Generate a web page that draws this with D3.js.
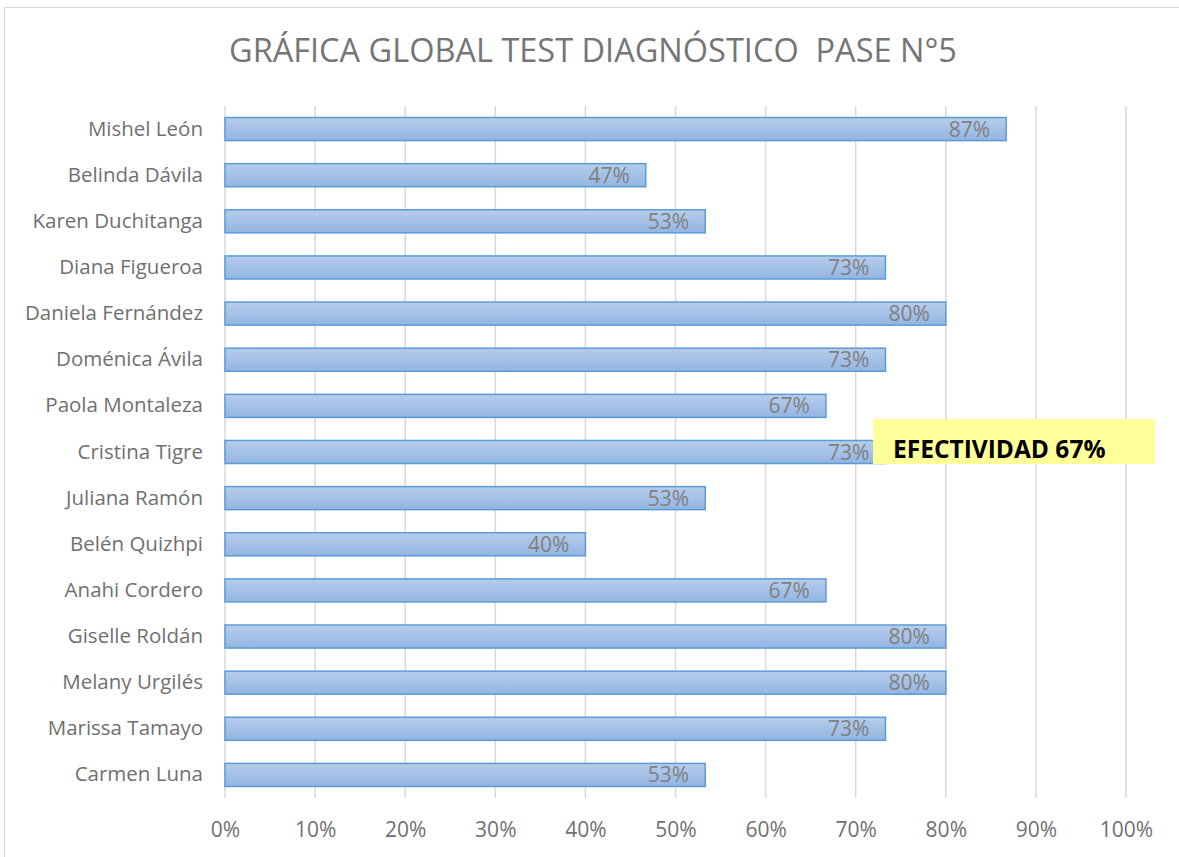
<!DOCTYPE html>
<html>
<head>
<meta charset="utf-8">
<script src="https://cdn.jsdelivr.net/npm/d3@7"></script>
<style>
  html, body { margin: 0; padding: 0; background: #fff; }
  svg { display: block; font-family: "Open Sans", "Lato", sans-serif; }
</style>
</head>
<body>
<svg id="chart" width="1179" height="857"></svg>
<script>
// Students, top to bottom
const students = [
  "Mishel León", "Belinda Dávila", "Karen Duchitanga", "Diana Figueroa",
  "Daniela Fernández", "Doménica Ávila", "Paola Montaleza", "Cristina Tigre",
  "Juliana Ramón", "Belén Quizhpi", "Anahi Cordero", "Giselle Roldán",
  "Melany Urgilés", "Marissa Tamayo", "Carmen Luna"
];
// Share of correct answers (out of 15 questions)
const scores = [
  0.867, 0.467, 0.533, 0.733,
  0.800, 0.733, 0.667, 0.733,
  0.533, 0.400, 0.667, 0.800,
  0.800, 0.733, 0.533
];
const tickValues = [0, 0.1, 0.2, 0.3, 0.4, 0.5, 0.6, 0.7, 0.8, 0.9, 1.0];
const chartTitle = "GRÁFICA GLOBAL TEST DIAGNÓSTICO  PASE N°5";
const noteText = "EFECTIVIDAD 67%";

const svg = d3.select("#chart");
const W = 1179, H = 857;
const plot = { left: 225, right: 1126, top: 106, bottom: 798 };
const font = "'Open Sans', Lato, sans-serif";

// Chart frame
svg.append("rect")
  .attr("x", 4.5).attr("y", 7.5)
  .attr("width", W + 10).attr("height", H + 10)
  .attr("fill", "#fff").attr("stroke", "#d9d9d9").attr("stroke-width", 1);

const x = d3.scaleLinear().domain([0, 1]).range([plot.left, plot.right]);
const y = d3.scaleBand().domain(students).range([plot.top, plot.bottom]).paddingInner(0.5).paddingOuter(0.25);

// Gradient for the bars
const defs = svg.append("defs");
const grad = defs.append("linearGradient").attr("id", "barFill")
  .attr("x1", 0).attr("y1", 0).attr("x2", 0).attr("y2", 1);
grad.append("stop").attr("offset", "0%").attr("stop-color", "#b7cdeb");
grad.append("stop").attr("offset", "100%").attr("stop-color", "#92b5e2");

// Title
svg.append("text")
  .attr("x", 593).attr("y", 62)
  .attr("text-anchor", "middle")
  .attr("font-size", 32.5)
  .attr("font-weight", 400)
  .attr("fill", "#757575")
  .attr("xml:space", "preserve")
  .text(chartTitle);

// Vertical gridlines
svg.append("g")
  .selectAll("line")
  .data(tickValues)
  .join("line")
  .attr("x1", d => x(d)).attr("x2", d => x(d))
  .attr("y1", plot.top).attr("y2", plot.bottom)
  .attr("stroke", "#d9d9d9").attr("stroke-width", 1.5);

// X axis labels
const xAxis = d3.axisBottom(x).tickValues(tickValues).tickFormat(d3.format(".0%")).tickSize(0).tickPadding(0);
const gx = svg.append("g").attr("transform", `translate(0,${plot.bottom + 39})`).call(xAxis);
gx.select(".domain").remove();
gx.selectAll("text").attr("font-size", 21).attr("fill", "#707070")
  .attr("font-family", font).attr("dy", 0);

// Y axis labels
const yAxis = d3.axisLeft(y).tickSize(0).tickPadding(22);
const gy = svg.append("g").attr("transform", `translate(${plot.left},0)`).call(yAxis);
gy.select(".domain").remove();
gy.selectAll("text").attr("font-size", 20.5).attr("fill", "#707070")
  .attr("font-family", font);

// Bars
svg.append("g")
  .selectAll("rect")
  .data(students.map((s, i) => ({ name: s, v: scores[i] })))
  .join("rect")
  .attr("x", x(0))
  .attr("y", d => y(d.name))
  .attr("width", d => x(d.v) - x(0))
  .attr("height", y.bandwidth())
  .attr("fill", "url(#barFill)")
  .attr("stroke", "#5b9bd5").attr("stroke-width", 1.5);

// Value labels, inside end of each bar
svg.append("g")
  .selectAll("text")
  .data(students.map((s, i) => ({ name: s, v: scores[i] })))
  .join("text")
  .attr("x", d => x(d.v) - 16)
  .attr("y", d => y(d.name) + y.bandwidth() / 2)
  .attr("dy", "0.36em")
  .attr("text-anchor", "end")
  .attr("font-size", 21)
  .attr("fill", "#808080")
  .text(d => d3.format(".0%")(d.v));

// Highlighted effectiveness note
svg.append("rect")
  .attr("x", 873).attr("y", 419).attr("width", 282).attr("height", 45)
  .attr("fill", "#ffff99");
svg.append("text")
  .attr("x", 893).attr("y", 458)
  .attr("font-size", 24.5).attr("font-weight", 700)
  .attr("fill", "#000")
  .text(noteText);
</script>
</body>
</html>
